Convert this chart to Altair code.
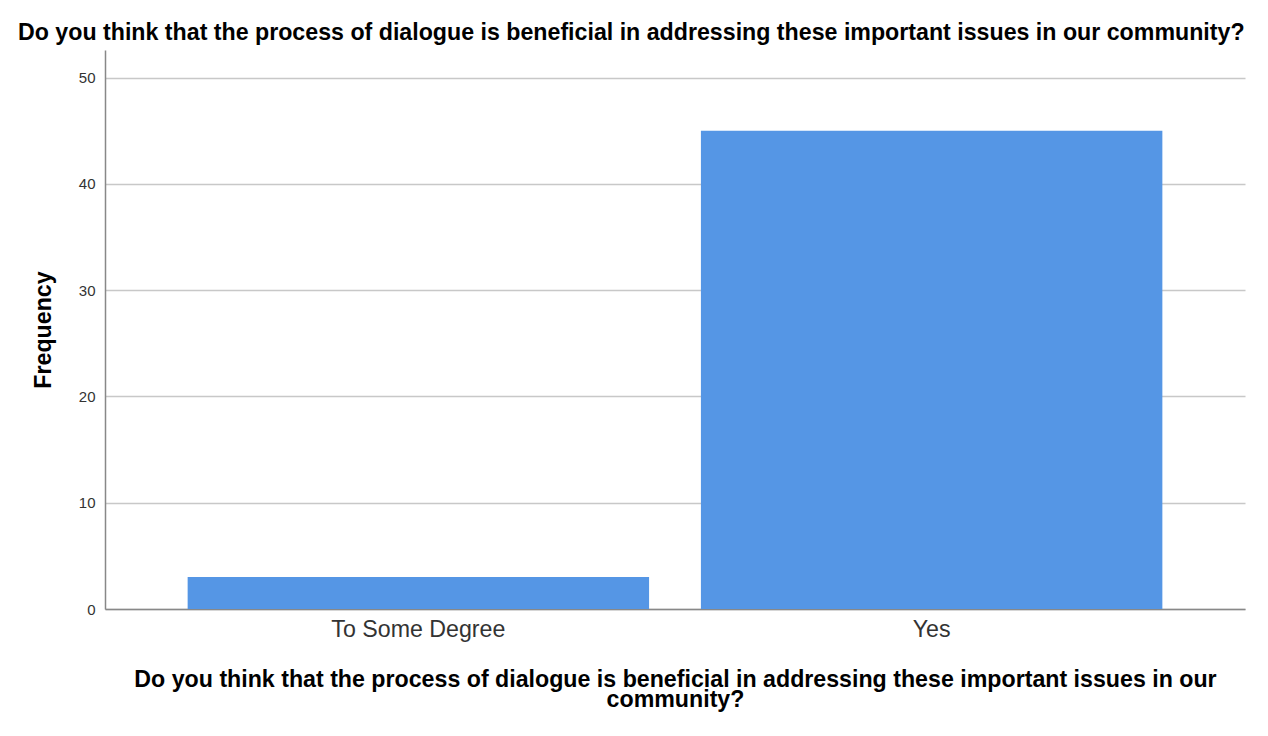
import altair as alt
import pandas as pd

categories = ["To Some Degree", "Yes"]
frequencies = [3, 45]
y_ticks = [0, 10, 20, 30, 40, 50]

question = "Do you think that the process of dialogue is beneficial in addressing these important issues in our community?"
x_title_lines = ["Do you think that the process of dialogue is beneficial in addressing these important issues in our", "community?"]

df = pd.DataFrame({"category": categories, "frequency": frequencies})

FONT = "Liberation Sans"

chart = alt.Chart(df).mark_bar(color="#5596e5").encode(
    x=alt.X(
        "category:N",
        sort=categories,
        scale=alt.Scale(paddingInner=0.101, paddingOuter=0.161),
        axis=alt.Axis(
            title=x_title_lines,
            labelAngle=0,
            labelFontSize=23.2,
            labelFont=FONT,
            labelColor="#333333",
            labelPadding=9,
            ticks=False,
            domainColor="#888888",
            domainWidth=1.5,
            titleFont=FONT,
            titleFontSize=23.2,
            titleFontWeight="bold",
            titleColor="#000000",
            titlePadding=28,
            titleLineHeight=20,
        ),
    ),
    y=alt.Y(
        "frequency:Q",
        scale=alt.Scale(domain=[0, 52.6], nice=False),
        axis=alt.Axis(
            title="Frequency",
            values=y_ticks,
            labelFontSize=15,
            labelFont=FONT,
            labelColor="#333333",
            labelPadding=10,
            ticks=False,
            domainColor="#888888",
            domainWidth=1.5,
            gridColor="#c8c8c8",
            gridWidth=1.3,
            titleFont=FONT,
            titleFontSize=23.2,
            titleFontWeight="bold",
            titleColor="#000000",
            titlePadding=23,
        ),
    ),
).properties(
    width=1140,
    height=559,
    title=alt.TitleParams(
        text=question,
        anchor="start",
        frame="group",
        dx=-87,
        font=FONT,
        fontSize=23.2,
        fontWeight="bold",
        color="#000000",
        offset=5,
    ),
    padding={"left": 97, "top": 42, "right": 15, "bottom": 119},
    autosize=alt.AutoSizeParams(type="none"),
    background="#ffffff",
).configure_view(stroke=None)

chart.save("out.html", embed_options={"renderer": "svg", "actions": False})
